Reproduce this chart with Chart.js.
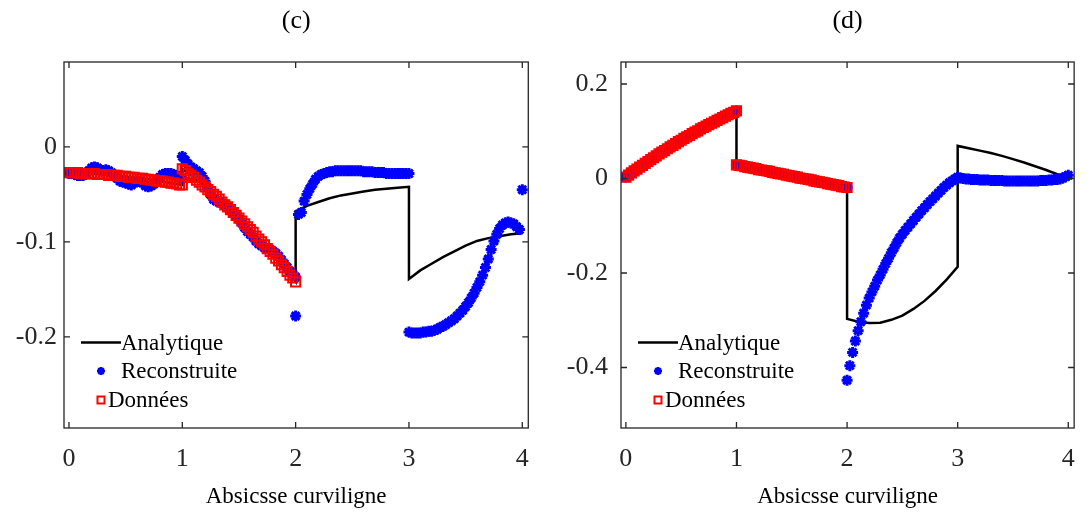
<!DOCTYPE html>
<html lang="fr">
<head>
<meta charset="utf-8">
<title>Analytique / Reconstruite / Données</title>
<script src="https://cdn.jsdelivr.net/npm/chart.js@4/dist/chart.umd.min.js"></script>
<style>
  html, body { margin: 0; padding: 0; background: #fff; }
  #page { position: relative; width: 1091px; height: 516px; }
  .panneau { position: absolute; top: 0; height: 516px; }
  #panneauC { left: 0; width: 545px; }
  #panneauD { left: 545px; width: 546px; }
</style>
</head>
<body>
<div id="page">
  <div class="panneau" id="panneauC"><canvas id="chartC"></canvas></div>
  <div class="panneau" id="panneauD"><canvas id="chartD"></canvas></div>
</div>
<script>
// abscisse curviligne : 4 segments [k, k+1]
const segments = [0, 1, 2, 3];
const pasPoints = 0.025;   // echantillonnage des marqueurs
const pasCourbe = 0.1;     // echantillonnage de la courbe analytique
const ticksX = [0, 1, 2, 3, 4];
const ticksYC = [0, -0.1, -0.2];
const ticksYD = [0.2, 0, -0.2, -0.4];

// ---- (c) ----
const analytiqueC = [
  [-0.027,-0.028,-0.028,-0.029,-0.030,-0.031,-0.033,-0.034,-0.036,-0.038,-0.040],
  [-0.023,-0.032,-0.042,-0.052,-0.063,-0.075,-0.087,-0.100,-0.113,-0.127,-0.142],
  [-0.068,-0.062,-0.058,-0.054,-0.051,-0.049,-0.047,-0.045,-0.044,-0.043,-0.042],
  [-0.139,-0.130,-0.123,-0.116,-0.110,-0.104,-0.099,-0.096,-0.094,-0.092,-0.091]
];
const reconstruiteC = [
  [-0.028,-0.028,-0.029,-0.030,-0.030,-0.030,-0.028,-0.025,-0.022,-0.021,
   -0.022,-0.024,-0.025,-0.024,-0.025,-0.027,-0.030,-0.033,-0.036,-0.037,
   -0.038,-0.039,-0.040,-0.038,-0.036,-0.036,-0.038,-0.041,-0.042,-0.041,
   -0.039,-0.036,-0.032,-0.029,-0.028,-0.028,-0.028,-0.029,-0.030,-0.032,
   -0.033],
  [-0.010,-0.014,-0.018,-0.021,-0.023,-0.025,-0.027,-0.031,-0.036,-0.043,
   -0.050,-0.055,-0.057,-0.058,-0.059,-0.061,-0.063,-0.066,-0.069,-0.072,
   -0.076,-0.080,-0.085,-0.089,-0.092,-0.095,-0.099,-0.102,-0.104,-0.106,
   -0.107,-0.108,-0.110,-0.112,-0.115,-0.119,-0.123,-0.127,-0.131,-0.134,
   -0.137],
  [-0.178,-0.071,-0.069,-0.057,-0.050,-0.044,-0.039,-0.034,-0.031,-0.029,
   -0.028,-0.027,-0.026,-0.026,-0.025,-0.025,-0.025,-0.025,-0.025,-0.025,
   -0.025,-0.025,-0.025,-0.025,-0.026,-0.026,-0.026,-0.026,-0.027,-0.027,
   -0.027,-0.027,-0.028,-0.028,-0.028,-0.028,-0.028,-0.028,-0.028,-0.028,
   -0.028],
  [-0.195,-0.196,-0.196,-0.196,-0.196,-0.195,-0.195,-0.194,-0.194,-0.193,
   -0.192,-0.190,-0.189,-0.187,-0.185,-0.183,-0.181,-0.178,-0.175,-0.172,
   -0.168,-0.164,-0.159,-0.154,-0.148,-0.142,-0.135,-0.127,-0.118,-0.108,
   -0.099,-0.092,-0.086,-0.082,-0.080,-0.079,-0.080,-0.081,-0.084,-0.087,
   -0.045]
];
const donneesC = [
  [-0.027,-0.027,-0.027,-0.027,-0.028,-0.028,-0.028,-0.028,-0.028,-0.028,
   -0.029,-0.029,-0.029,-0.029,-0.030,-0.030,-0.030,-0.030,-0.031,-0.031,
   -0.031,-0.032,-0.032,-0.032,-0.033,-0.033,-0.033,-0.034,-0.034,-0.035,
   -0.035,-0.036,-0.036,-0.036,-0.037,-0.037,-0.038,-0.038,-0.039,-0.040,
   -0.040],
  [-0.023,-0.025,-0.028,-0.030,-0.032,-0.035,-0.037,-0.040,-0.042,-0.045,
   -0.047,-0.050,-0.052,-0.055,-0.058,-0.061,-0.063,-0.066,-0.069,-0.072,
   -0.075,-0.078,-0.081,-0.084,-0.087,-0.090,-0.094,-0.097,-0.100,-0.103,
   -0.107,-0.110,-0.113,-0.117,-0.120,-0.124,-0.127,-0.131,-0.135,-0.138,
   -0.142]
];

// ---- (d) ----
const analytiqueD = [
  [0.003,0.020,0.036,0.052,0.067,0.081,0.095,0.108,0.120,0.132,0.143],
  [0.029,0.024,0.019,0.015,0.010,0.005,0.000,-0.005,-0.009,-0.014,-0.019],
  [-0.297,-0.303,-0.306,-0.305,-0.299,-0.290,-0.276,-0.259,-0.238,-0.214,-0.187],
  [0.069,0.064,0.059,0.054,0.048,0.041,0.034,0.026,0.018,0.009,0.004]
];
const donneesD = [
  [0.003,0.007,0.012,0.016,0.020,0.024,0.028,0.032,0.036,0.040,
   0.044,0.048,0.052,0.056,0.059,0.063,0.067,0.070,0.074,0.078,
   0.081,0.085,0.088,0.091,0.095,0.098,0.101,0.105,0.108,0.111,
   0.114,0.117,0.120,0.123,0.126,0.129,0.132,0.135,0.138,0.140,
   0.143],
  [0.029,0.028,0.027,0.025,0.024,0.023,0.022,0.021,0.019,0.018,
   0.017,0.016,0.015,0.013,0.012,0.011,0.010,0.009,0.007,0.006,
   0.005,0.004,0.003,0.001,0.000,-0.001,-0.002,-0.003,-0.005,-0.006,
   -0.007,-0.008,-0.009,-0.011,-0.012,-0.013,-0.014,-0.015,-0.017,-0.018,
   -0.019]
];
// sur [0,2] la reconstruction se confond avec les donnees
const reconstruiteD = [
  donneesD[0],
  donneesD[1],
  [-0.427,-0.396,-0.368,-0.344,-0.322,-0.303,-0.285,-0.268,-0.253,-0.240,
   -0.228,-0.215,-0.204,-0.192,-0.180,-0.169,-0.157,-0.147,-0.136,-0.126,
   -0.118,-0.110,-0.103,-0.096,-0.089,-0.082,-0.075,-0.068,-0.062,-0.055,
   -0.049,-0.043,-0.037,-0.031,-0.025,-0.019,-0.014,-0.009,-0.005,-0.001,
   0.002],
  [0.002,0.001,0.000,-0.001,-0.001,-0.002,-0.002,-0.002,-0.003,-0.003,
   -0.003,-0.003,-0.004,-0.004,-0.004,-0.004,-0.004,-0.005,-0.005,-0.005,
   -0.005,-0.005,-0.005,-0.005,-0.005,-0.005,-0.005,-0.005,-0.005,-0.005,
   -0.004,-0.004,-0.004,-0.003,-0.003,-0.002,-0.002,-0.001,0.001,0.004,
   0.007]
];

const police = "'Liberation Serif', 'Times New Roman', serif";
const gris = '#262626';

function points(segs, pas) {
  return segs.flatMap((vals, k) => vals.map((v, i) => ({ x: segments[k] + i * pas, y: v })));
}

// cadre complet + graduations vers l'interieur (style matlab)
const cadre = {
  id: 'cadre',
  afterDatasetsDraw(chart) {
    const { ctx, chartArea: a, scales: { x, y } } = chart;
    ctx.save();
    ctx.strokeStyle = gris;
    ctx.lineWidth = 1.3;
    ctx.strokeRect(a.left, a.top, a.right - a.left, a.bottom - a.top);
    ctx.beginPath();
    x.ticks.forEach(t => {
      const p = x.getPixelForValue(t.value);
      ctx.moveTo(p, a.bottom); ctx.lineTo(p, a.bottom - 6);
      ctx.moveTo(p, a.top); ctx.lineTo(p, a.top + 6);
    });
    y.ticks.forEach(t => {
      const p = y.getPixelForValue(t.value);
      ctx.moveTo(a.left, p); ctx.lineTo(a.left + 6, p);
      ctx.moveTo(a.right, p); ctx.lineTo(a.right - 6, p);
    });
    ctx.stroke();
    ctx.restore();
  }
};

// legende sans boite, en bas a gauche du cadre
const legende = {
  id: 'legende',
  afterDatasetsDraw(chart) {
    const { ctx, chartArea: a } = chart;
    const L = a.left, B = a.bottom;
    ctx.save();
    ctx.font = '23px ' + police;
    ctx.fillStyle = '#000';
    ctx.textBaseline = 'middle';
    ctx.textAlign = 'left';
    // Analytique
    ctx.strokeStyle = '#000';
    ctx.lineWidth = 2.5;
    ctx.beginPath(); ctx.moveTo(L + 17, B - 85.5); ctx.lineTo(L + 57, B - 85.5); ctx.stroke();
    ctx.fillText('Analytique', L + 57, B - 84);
    // Reconstruite
    const cx = L + 37, cy = B - 57, r = 4;
    ctx.strokeStyle = '#0000ff';
    ctx.lineWidth = 2.4;
    ctx.beginPath();
    ctx.moveTo(cx - r, cy); ctx.lineTo(cx + r, cy);
    ctx.moveTo(cx, cy - r); ctx.lineTo(cx, cy + r);
    ctx.moveTo(cx - r * 0.7, cy - r * 0.7); ctx.lineTo(cx + r * 0.7, cy + r * 0.7);
    ctx.moveTo(cx - r * 0.7, cy + r * 0.7); ctx.lineTo(cx + r * 0.7, cy - r * 0.7);
    ctx.stroke();
    ctx.fillText('Reconstruite', L + 57, B - 56);
    // Données
    ctx.strokeStyle = '#ff0000';
    ctx.lineWidth = 2;
    ctx.strokeRect(L + 33.5, B - 31.5, 7, 7);
    ctx.fillText('Données', L + 44, B - 27);
    ctx.restore();
  }
};

function trace(id, o) {
  return new Chart(document.getElementById(id), {
    type: 'line',
    data: {
      datasets: [
        { label: 'Analytique', data: points(o.analytique, pasCourbe),
          borderColor: '#000', borderWidth: 2.5, pointRadius: 0, fill: false, order: 3 },
        { label: 'Reconstruite', data: points(o.reconstruite, pasPoints), showLine: false,
          pointStyle: 'star', pointRadius: 5.5, pointBorderWidth: 3,
          borderColor: '#0000ff', backgroundColor: '#0000ff', order: 2 },
        { label: 'Données', data: points(o.donnees, pasPoints), showLine: false,
          pointStyle: 'rect', pointRadius: 6.5, pointBorderWidth: 2,
          borderColor: '#ff0000', backgroundColor: 'rgba(0,0,0,0)', order: 1 }
      ]
    },
    options: {
      responsive: true,
      maintainAspectRatio: false,
      animation: false,
      devicePixelRatio: 1,
      layout: { padding: { left: 0, right: o.droite, top: 0, bottom: 0 } },
      plugins: {
        legend: { display: false },
        tooltip: { enabled: false },
        title: {
          display: true, text: o.titre, fullSize: false, color: '#000',
          font: { family: police, size: 26, weight: 'normal' },
          padding: { top: 6, bottom: 24.8 }
        }
      },
      scales: {
        x: {
          type: 'linear', min: -0.044, max: 4.053,
          grid: { display: false, drawTicks: false },
          border: { display: false },
          afterBuildTicks: s => { s.ticks = ticksX.map(v => ({ value: v })); },
          afterFit: s => { s.height = 88; },
          ticks: { color: gris, padding: 16, font: { family: police, size: 26 }, callback: v => String(v) },
          title: {
            display: true, text: 'Absicsse curviligne', color: '#000',
            font: { family: police, size: 23 }, padding: { top: 0, bottom: 5 }
          }
        },
        y: {
          type: 'linear', min: o.yMin, max: o.yMax,
          grid: { display: false, drawTicks: false },
          border: { display: false },
          afterBuildTicks: s => { s.ticks = o.ticksY.map(v => ({ value: v })); },
          afterFit: s => { s.width = o.largeurY; },
          ticks: { color: gris, padding: o.padY, font: { family: police, size: 26 }, callback: v => String(v) }
        }
      }
    },
    plugins: [cadre, legende]
  });
}

trace('chartC', {
  titre: '(c)', analytique: analytiqueC, reconstruite: reconstruiteC, donnees: donneesC,
  yMin: -0.296, yMax: 0.0895, ticksY: ticksYC, largeurY: 64, padY: 7, droite: 16
});
trace('chartD', {
  titre: '(d)', analytique: analytiqueD, reconstruite: reconstruiteD, donnees: donneesD,
  yMin: -0.528, yMax: 0.2466, ticksY: ticksYD, largeurY: 76, padY: 13, droite: 7
});
</script>
</body>
</html>
